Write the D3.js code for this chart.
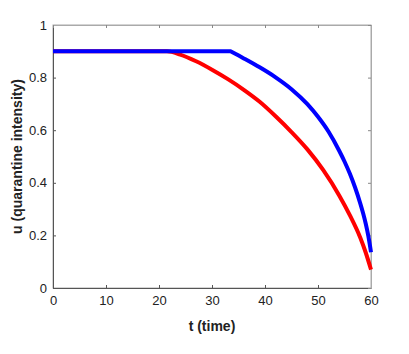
<!DOCTYPE html>
<html><head><meta charset="utf-8">
<script src="https://cdn.jsdelivr.net/npm/d3@7"></script>
<style>body{margin:0;background:#fff}</style>
</head><body>
<svg id="c" width="409" height="354"></svg>
<script>
const redT = [0, 10, 20, 21.5, 24, 27, 30, 33, 36, 39, 42, 45, 48, 51, 54, 56, 58, 59, 60];
const redU = [0.9, 0.9, 0.9, 0.9, 0.8875, 0.862, 0.830, 0.794, 0.7535, 0.708, 0.653, 0.593, 0.527, 0.448, 0.352, 0.277, 0.19, 0.135, 0.07];
const blueT = [0, 33.5, 36, 39, 42, 45, 48, 50, 52, 54, 55, 56, 57, 58, 58.5, 59, 59.5, 60];
const blueU = [0.9, 0.9, 0.873, 0.839, 0.801, 0.756, 0.699, 0.651, 0.594, 0.522, 0.481, 0.435, 0.382, 0.32, 0.285, 0.245, 0.197, 0.136];
const xTicks = [0, 10, 20, 30, 40, 50, 60];
const yTicks = [0, 0.2, 0.4, 0.6, 0.8, 1];
const xLabel = "t (time)";
const yLabel = "u (quarantine intensity)";

const svg = d3.select("#c");
const L = 53, R = 371, T = 25, B = 288;
const x = d3.scaleLinear().domain([0, 60]).range([L, R]);
const y = d3.scaleLinear().domain([0, 1]).range([B, T]);
const font = "Liberation Sans, Arial, sans-serif";
const axCol = "#555";

svg.append("rect").attr("x", L).attr("y", T).attr("width", R - L).attr("height", B - T)
  .attr("fill", "none").attr("stroke", "#aaa").attr("stroke-width", 1);

const gx = svg.append("g").attr("transform", `translate(0,${B})`)
  .call(d3.axisBottom(x).tickValues(xTicks).tickSize(-3).tickPadding(8).tickFormat(d3.format("d")));
const gy = svg.append("g").attr("transform", `translate(${L},0)`)
  .call(d3.axisLeft(y).tickValues(yTicks).tickSize(-3).tickPadding(6).tickFormat(d => d === 0 || d === 1 ? d : d3.format(".1f")(d)));
const gt = svg.append("g").attr("transform", `translate(0,${T})`)
  .call(d3.axisTop(x).tickValues(xTicks).tickSize(-3).tickFormat(""));
const gr = svg.append("g").attr("transform", `translate(${R},0)`)
  .call(d3.axisRight(y).tickValues(yTicks).tickSize(-3).tickFormat(""));
[gt, gr].forEach(g => { g.select(".domain").attr("stroke", "#aaa"); g.selectAll(".tick line").attr("stroke", "#888"); });
[gx, gy].forEach(g => {
  g.select(".domain").attr("stroke", axCol);
  g.selectAll(".tick line").attr("stroke", axCol);
  g.selectAll(".tick text").attr("font-family", font).attr("font-size", 13).attr("fill", "#222");
});

const smooth = d3.line().x(d => x(d[0])).y(d => y(d[1])).curve(d3.curveMonotoneX);
const redPts = redT.map((t, i) => [t, redU[i]]);
svg.append("path").attr("d", smooth(redPts))
  .attr("fill", "none").attr("stroke", "#ff0000").attr("stroke-width", 4);

// blue: flat part then a kink into the curved part
const bluePts = blueT.map((t, i) => [t, blueU[i]]);
const flat = bluePts.slice(0, 2);
const curved = bluePts.slice(1);
const blueD = `M${x(flat[0][0])},${y(flat[0][1])}` + smooth(curved).replace(/^M/, "L");
svg.append("path").attr("d", blueD)
  .attr("fill", "none").attr("stroke", "#0000ff").attr("stroke-width", 4).attr("stroke-linejoin", "round");

svg.append("text").attr("x", (L + R) / 2).attr("y", 331).attr("text-anchor", "middle")
  .attr("font-family", font).attr("font-size", 14).attr("font-weight", "bold").attr("fill", "#222").text(xLabel);
svg.append("text").attr("transform", `translate(22,${(T + B) / 2}) rotate(-90)`).attr("text-anchor", "middle")
  .attr("font-family", font).attr("font-size", 14).attr("font-weight", "bold").attr("fill", "#222").text(yLabel);
</script>
</body></html>
